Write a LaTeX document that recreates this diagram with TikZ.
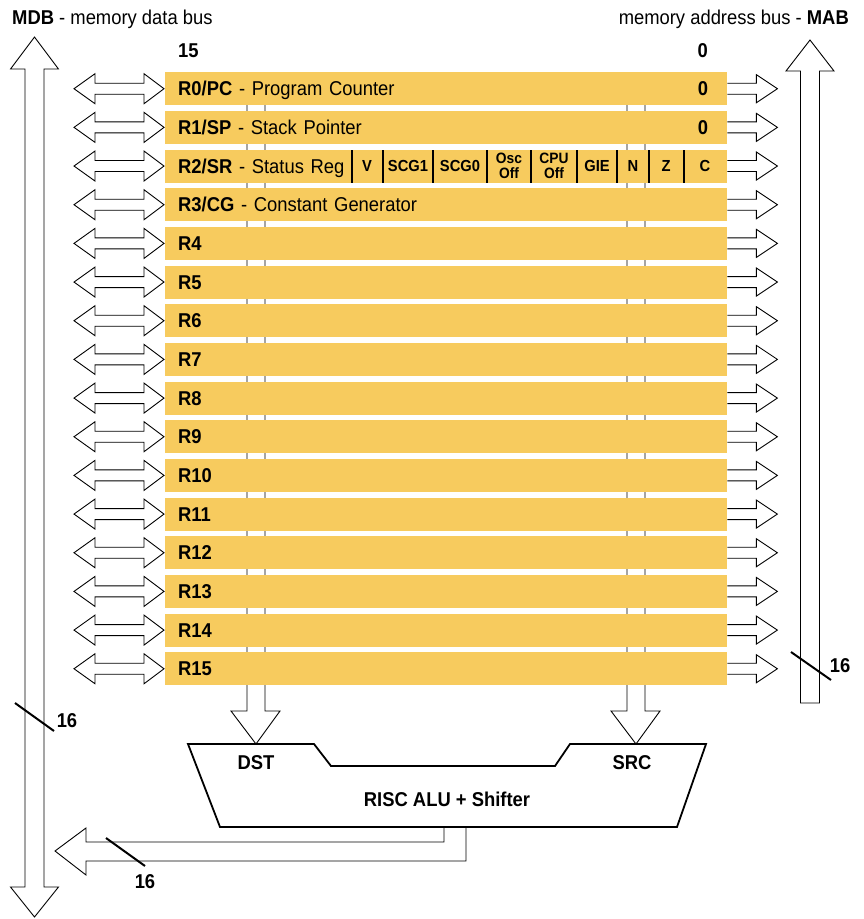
\documentclass[tikz,border=0pt]{standalone}
\usepackage{fontspec}
\setmainfont{Liberation Sans}[FakeStretch=0.92]
\usepackage{tikz}

\definecolor{regfill}{RGB}{247,203,94}

\begin{document}
\begin{tikzpicture}[x=1pt,y=-1pt,
        every node/.style={inner sep=0pt,font=\fontsize{20}{22}\selectfont},
        lbl/.style={text height=14pt,text depth=0pt},
        reg/.style={lbl,fill=regfill,anchor=north west,minimum height=33pt,text width=536pt,inner xsep=13pt,align=left},
        bit/.style={font=\fontsize{16}{16}\selectfont\bfseries},
        twobit/.style={font=\fontsize{15}{15.5}\selectfont\bfseries,align=center},
        bus/.style={draw=black,fill=white,line width=0.9pt},
        tick/.style={line width=2pt},
        alu/.style={draw=black,line width=1.8pt,line join=miter}
    ]
        \useasboundingbox (0,0) rectangle (864,919);

        \coordinate (dst) at (256,744);
        \coordinate (src) at (636,744);
        \draw[bus,fill=none] (dst) ++(-9,-656) -- ++(0,623) -- ++(-16,0) -- (dst) -- ++(24,-33) -- ++(-15,0) -- ++(0,-623);
        \draw[bus,fill=none] (src) ++(-9,-656) -- ++(0,623) -- ++(-16,0) -- (src) -- ++(24,-33) -- ++(-15,0) -- ++(0,-623);

        \node[reg] (r0) at (165,72) {\textbf{R0/PC} - Program Counter};
        \node[reg] (r1) at (165,110.67) {\textbf{R1/SP} - Stack Pointer};
        \node[reg] (r2) at (165,149.33) {\textbf{R2/SR} - Status Reg};
        \node[reg] (r3) at (165,188) {\textbf{R3/CG} - Constant Generator};
        \foreach \i in {4,...,15}
            \node[reg] (r\i) at (165,72+38.67*\i) {\textbf{R\i}};

        \node[lbl,anchor=east] (pczero) at ([xshift=-19pt]r0.east) {\textbf{0}};
        \node[lbl,anchor=east] (spzero) at ([xshift=-19pt]r1.east) {\textbf{0}};

        \foreach \x in {352,383,433,487,531,577,617,649,684}
            \draw[line width=1.2pt] (\x,150) -- (\x,182.5);
        \foreach \x/\b in {367/V,408/SCG1,460/SCG0,597/GIE,633/N,666/Z,705/C}
            \node[bit] (sr\b) at (\x,166) {\b};
        \node[twobit] (srosc) at (509,166) {Osc\\Off};
        \node[twobit] (srcpu) at (554,166) {CPU\\Off};

        \foreach \i in {0,...,15} {
            \draw[bus] (r\i.west) ++(-1,0) -- ++(-20,-15) -- ++(0,9.5) -- ++(-49,0) -- ++(0,-9.5) -- ++(-21,15)
                -- ++(21,15) -- ++(0,-9.5) -- ++(49,0) -- ++(0,9.5) -- cycle;
            \draw[bus] (r\i.east) ++(0,-5.5) -- ++(29,0) -- ++(0,-8.5) -- ++(21,14) -- ++(-21,14) -- ++(0,-8.5) -- ++(-29,0);
        }

        \node[anchor=base west] (mdblabel) at (12,24) {\textbf{MDB} - memory data bus};
        \node[anchor=base east] (mablabel) at (849,24) {memory address bus - \textbf{MAB}};
        \node[anchor=base west] (msb) at (178,57) {\textbf{15}};
        \node[anchor=base east] (lsb) at (708,57) {\textbf{0}};

        \draw[bus] (34.5,37) -- (58.5,69) -- (44,69) -- (44,887) -- (58.5,887) -- (34.5,917) -- (10.5,887)
            -- (25,887) -- (25,69) -- (10.5,69) -- cycle;
        \draw[bus] (810,40) -- (834,71) -- (819.5,71) -- (819.5,703) -- (800.5,703) -- (800.5,71) -- (786,71) -- cycle;

        \draw[alu] (188,744) -- (314,744) -- (331,766) -- (555,766) -- (570,744) -- (706,744) -- (677,827) -- (220,827) -- cycle;
        \node[lbl] (dstlabel) at (256,762) {\textbf{DST}};
        \node[lbl] (srclabel) at (632,762) {\textbf{SRC}};
        \node[lbl] (alulabel) at (447,799) {\textbf{RISC ALU + Shifter}};

        \draw[bus] (444,828) -- (444,842) -- (86,842) -- (86,828) -- (55,851) -- (86,875) -- (86,861) -- (466,861) -- (466,828);

        \draw[tick] (15,703) -- (54,731);
        \node[lbl] (mdbwidth) at (67,720) {\textbf{16}};
        \draw[tick] (791,652) -- (831,680);
        \node[lbl] (mabwidth) at (840,665) {\textbf{16}};
        \draw[tick] (106,838) -- (145,866);
        \node[lbl] (aluwidth) at (145,881) {\textbf{16}};
    \end{tikzpicture}
\end{document}
